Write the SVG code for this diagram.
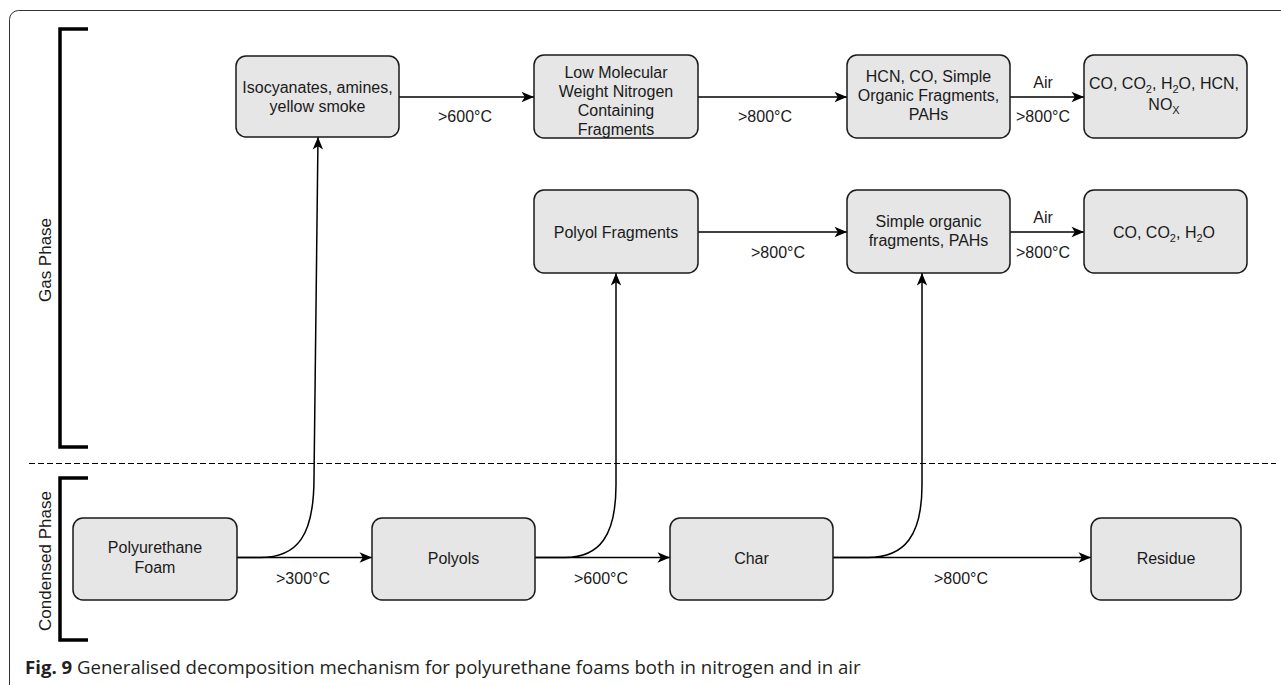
<svg xmlns="http://www.w3.org/2000/svg" width="1281" height="685" viewBox="0 0 1281 685">
<style>
.box{fill:#e6e6e6;stroke:#1a1a1a;stroke-width:1.5}
.t{font-family:"Liberation Sans",Arial,sans-serif;font-size:16px;fill:#1a1a1a;text-anchor:middle}
.ph{font-family:"Liberation Sans",Arial,sans-serif;font-size:17px;fill:#1a1a1a;text-anchor:middle}
.edge{fill:none;stroke:#000;stroke-width:1.5}
.arr{marker-end:url(#ah)}
.br{fill:none;stroke:#000;stroke-width:3.5}
.sub{font-size:11px}
</style>
<defs>
<marker id="ah" markerWidth="14" markerHeight="12" refX="13" refY="6" orient="auto" markerUnits="userSpaceOnUse">
<path d="M0.5,0.8 L13,6 L0.5,11.2 L3.8,6 Z" fill="#000"/>
</marker>
</defs>
<rect x="0" y="0" width="1281" height="685" fill="#fff"/>
<rect x="9.5" y="10.5" width="1320" height="720" rx="9" fill="none" stroke="#333" stroke-width="1"/>

<g id="phases">
<path class="br" d="M88,29 H60 V447 H88"/>
<path class="br" d="M88,478 H60 V640 H88"/>
<text class="ph" transform="translate(51,260) rotate(-90)">Gas Phase</text>
<text class="ph" transform="translate(51,561) rotate(-90)">Condensed Phase</text>
<line x1="29" y1="463.5" x2="1276" y2="463.5" stroke="#000" stroke-width="1.2" stroke-dasharray="6,3"/>
</g>

<g id="connectors">
<path class="edge arr" d="M399,97 H534"/>
<text class="t" x="465" y="122">&gt;600°C</text>
<path class="edge arr" d="M698,97 H847"/>
<text class="t" x="765" y="122">&gt;800°C</text>
<path class="edge arr" d="M1010,97 H1084"/>
<text class="t" x="1043" y="88">Air</text>
<text class="t" x="1043" y="122">&gt;800°C</text>

<path class="edge arr" d="M698,232 H847"/>
<text class="t" x="778" y="258">&gt;800°C</text>
<path class="edge arr" d="M1010,232 H1084"/>
<text class="t" x="1043" y="223">Air</text>
<text class="t" x="1043" y="258">&gt;800°C</text>

<path class="edge arr" d="M237,557.5 H372"/>
<text class="t" x="303" y="584">&gt;300°C</text>
<path class="edge arr" d="M535,557.5 H670"/>
<text class="t" x="601" y="584">&gt;600°C</text>
<path class="edge arr" d="M833,557.5 H1091"/>
<text class="t" x="961" y="584">&gt;800°C</text>

<path class="edge arr" d="M237,557.5 H260 C298,557.5 314,535 314,478 L318,137"/>
<path class="edge arr" d="M535,557.5 H565 C600,557.5 616,535 616,485 L616,273"/>
<path class="edge arr" d="M833,557.5 H868 C905,557.5 922,535 922,485 L922,273"/>
</g>

<g id="n-isocyanates">
<rect class="box" x="236" y="56" width="163" height="81" rx="10"/>
<text class="t" x="317.5" y="92.5">Isocyanates, amines,</text>
<text class="t" x="317.5" y="111.5">yellow smoke</text>
</g>
<g id="n-lowmw">
<rect class="box" x="534" y="55" width="164" height="83" rx="10"/>
<text class="t" x="616" y="78">Low Molecular</text>
<text class="t" x="616" y="97">Weight Nitrogen</text>
<text class="t" x="616" y="116">Containing</text>
<text class="t" x="616" y="135">Fragments</text>
</g>
<g id="n-hcn">
<rect class="box" x="847" y="55" width="163" height="83" rx="10"/>
<text class="t" x="928.5" y="82">HCN, CO, Simple</text>
<text class="t" x="928.5" y="101">Organic Fragments,</text>
<text class="t" x="928.5" y="120">PAHs</text>
</g>
<g id="n-final1">
<rect class="box" x="1084" y="55" width="163" height="83" rx="10"/>
<text class="t" x="1164" y="89">CO, CO<tspan class="sub" dy="4">2</tspan><tspan dy="-4">, H</tspan><tspan class="sub" dy="4">2</tspan><tspan dy="-4">O, HCN,</tspan></text>
<text class="t" x="1164" y="110">NO<tspan class="sub" dy="4">X</tspan></text>
</g>

<g id="n-polyolfrag">
<rect class="box" x="534" y="190" width="164" height="83" rx="10"/>
<text class="t" x="616" y="238">Polyol Fragments</text>
</g>
<g id="n-simple">
<rect class="box" x="847" y="190" width="163" height="83" rx="10"/>
<text class="t" x="928.5" y="227">Simple organic</text>
<text class="t" x="928.5" y="246">fragments, PAHs</text>
</g>
<g id="n-final2">
<rect class="box" x="1084" y="190" width="163" height="83" rx="10"/>
<text class="t" x="1164" y="238">CO, CO<tspan class="sub" dy="4">2</tspan><tspan dy="-4">, H</tspan><tspan class="sub" dy="4">2</tspan><tspan dy="-4">O</tspan></text>
</g>

<g id="n-puf">
<rect class="box" x="73" y="518" width="164" height="82" rx="10"/>
<text class="t" x="155" y="553">Polyurethane</text>
<text class="t" x="155" y="573">Foam</text>
</g>
<g id="n-polyols">
<rect class="box" x="372" y="518" width="163" height="82" rx="10"/>
<text class="t" x="453.5" y="564">Polyols</text>
</g>
<g id="n-char">
<rect class="box" x="670" y="518" width="163" height="82" rx="10"/>
<text class="t" x="751.5" y="564">Char</text>
</g>
<g id="n-residue">
<rect class="box" x="1091" y="518" width="150" height="82" rx="10"/>
<text class="t" x="1166" y="564">Residue</text>
</g>

<text x="25" y="673.5" font-family="'Open Sans',sans-serif" font-size="18.6" fill="#231f20"><tspan font-weight="bold">Fig. 9</tspan> Generalised decomposition mechanism for polyurethane foams both in nitrogen and in air</text>
</svg>
